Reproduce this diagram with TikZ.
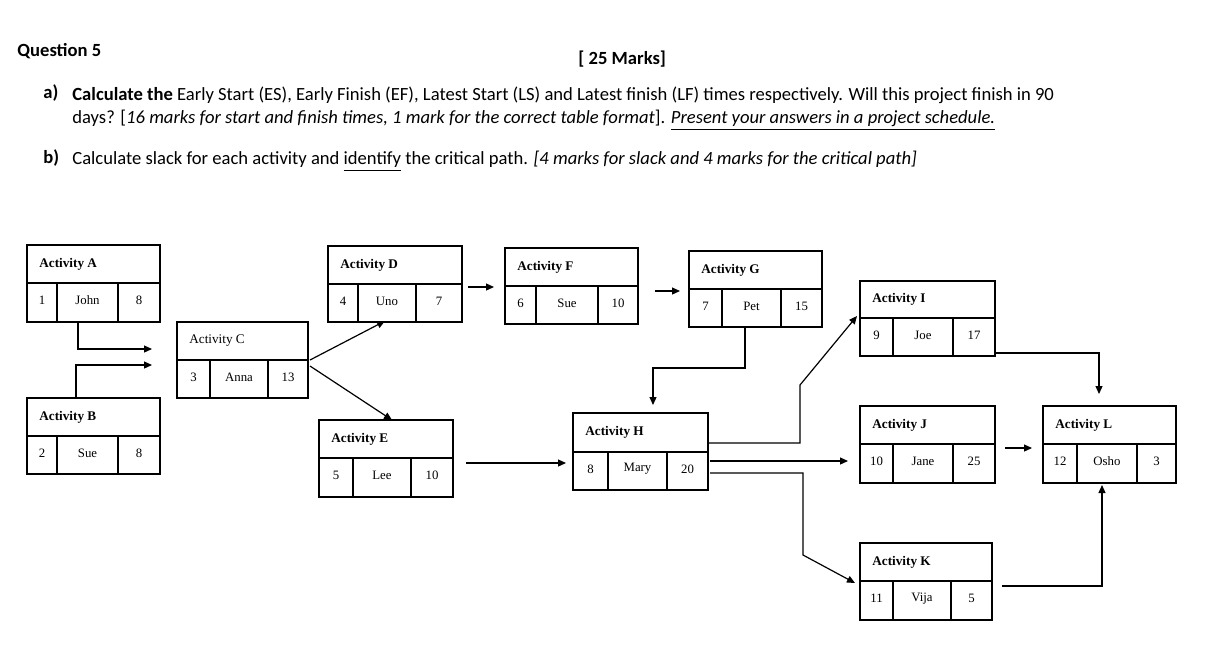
\documentclass[tikz,border=0pt]{standalone}
\usepackage{fontspec}
\setmainfont{Liberation Serif}
\newfontfamily\calfont{Carlito}
\usetikzlibrary{arrows.meta}
\tikzset{box/.style={line width=0.6pt},
 ttl/.style={anchor=west,font=\fontsize{6.6}{8}\selectfont\bfseries,inner sep=0},
 cell/.style={font=\fontsize{6.4}{8}\selectfont,inner sep=0},
 hd/.style={anchor=west,font=\calfont\fontsize{9.3}{11}\selectfont,inner sep=0},
 hdb/.style={anchor=west,font=\calfont\bfseries\fontsize{9.3}{11}\selectfont,inner sep=0},
 arr/.style={line width=0.6pt,-{Triangle[length=4pt,width=3.5pt]}}}
\newcommand\abox[9]{%
 \draw[box] (#2,#3) rectangle (#4,#5);
 \draw[box] (#2,#6) -- (#4,#6) (#7,#6)--(#7,#5) (#8,#6)--(#8,#5);
 \node[ttl] (#1) at ({#2+12},{(#3+#6)/2}) {#9};
 \coordinate (#1-c1) at ({(#2+#7)/2},{(#6+#5)/2-2});
 \coordinate (#1-c2) at ({(#7+#8)/2},{(#6+#5)/2-2});
 \coordinate (#1-c3) at ({(#8+#4)/2},{(#6+#5)/2-2});}
\newcommand\cells[4]{\node[cell] (#1-n1) at (#1-c1) {#2};
 \node[cell] (#1-n2) at (#1-c2) {#3};
 \node[cell] (#1-n3) at (#1-c3) {#4};}
\begin{document}
\begin{tikzpicture}[x=0.5pt,y=-0.5pt]
\useasboundingbox[fill=white] (0,0) rectangle (1207,650);
\node[hdb] (q) at (17,51) {Question 5};
\node[hdb] (m) at (578,59) {[ 25 Marks]};
\node[hdb] (la) at (43,93) {a)};
\node[hd] (ta) at (72,95) {\textbf{Calculate the} Early Start (ES), Early Finish (EF), Latest Start (LS) and Latest finish (LF) times respectively. Will this project finish in 90};
\node[hd] (ta2) at (72,120) {days? [\textit{16 marks for start and finish times, 1 mark for the correct table format}]. \underline{\textit{Present your answers in a project schedule.}}};
\node[hdb] (lb) at (43,158) {b)};
\node[hd] (tb) at (72,161) {Calculate slack for each activity and \underline{identify} the critical path. \textit{[4 marks for slack and 4 marks for the critical path]}};

\abox{A}{27}{245}{160}{322}{283}{57}{118}{Activity A}\cells{A}{1}{John}{8}
\abox{B}{27}{398}{160}{474}{436}{57}{118}{Activity B}\cells{B}{2}{Sue}{8}
\abox{C}{177}{322}{308}{398}{360}{210}{268}{\mdseries Activity C}\cells{C}{3}{Anna}{13}
\abox{D}{328}{246}{462}{322}{284}{358}{416}{Activity D}\cells{D}{4}{Uno}{7}
\abox{E}{319}{420}{453}{497}{458}{353}{411}{Activity E}\cells{E}{5}{Lee}{10}
\abox{F}{505}{248}{638}{324}{286}{536}{598}{Activity F}\cells{F}{6}{Sue}{10}
\abox{G}{689}{251}{822}{327}{289}{722}{781}{Activity G}\cells{G}{7}{Pet}{15}
\abox{H}{573}{413}{708}{490}{452}{608}{667}{Activity H}\cells{H}{8}{Mary}{20}
\abox{I}{860}{281}{995}{356}{318}{893}{953}{Activity I}\cells{I}{9}{Joe}{17}
\abox{J}{860}{406}{995}{483}{444}{893}{953}{Activity J}\cells{J}{10}{Jane}{25}
\abox{K}{860}{543}{992}{620}{581}{893}{951}{Activity K}\cells{K}{11}{Vija}{5}
\abox{L}{1043}{406}{1176}{483}{444}{1077}{1137}{Activity L}\cells{L}{12}{Osho}{3}

\draw[arr] (78,322) -- (78,349) -- (152,349);
\draw[arr] (76,398) -- (76,365) -- (152,365);
\draw[arr] (310,360) -- (385,321);
\draw[arr] (310,366) -- (392,420);
\draw[arr] (468,287) -- (494,287);
\draw[arr] (655,291) -- (680,291);
\draw[arr] (745,327) -- (745,368) -- (653,368) -- (653,405);
\draw[arr] (466,463) -- (566,463);
\draw[arr] (708,443) -- (800,443) -- (800,385) -- (857,316);
\draw[arr] (710,461) -- (848,461);
\draw[arr] (710,473) -- (803,473) -- (803,555) -- (855,583);
\draw[arr] (995,353) -- (1099,353) -- (1099,394);
\draw[arr] (1005,448) -- (1032,448);
\draw[arr] (1002,586) -- (1102,586) -- (1102,485);
\end{tikzpicture}
\end{document}
